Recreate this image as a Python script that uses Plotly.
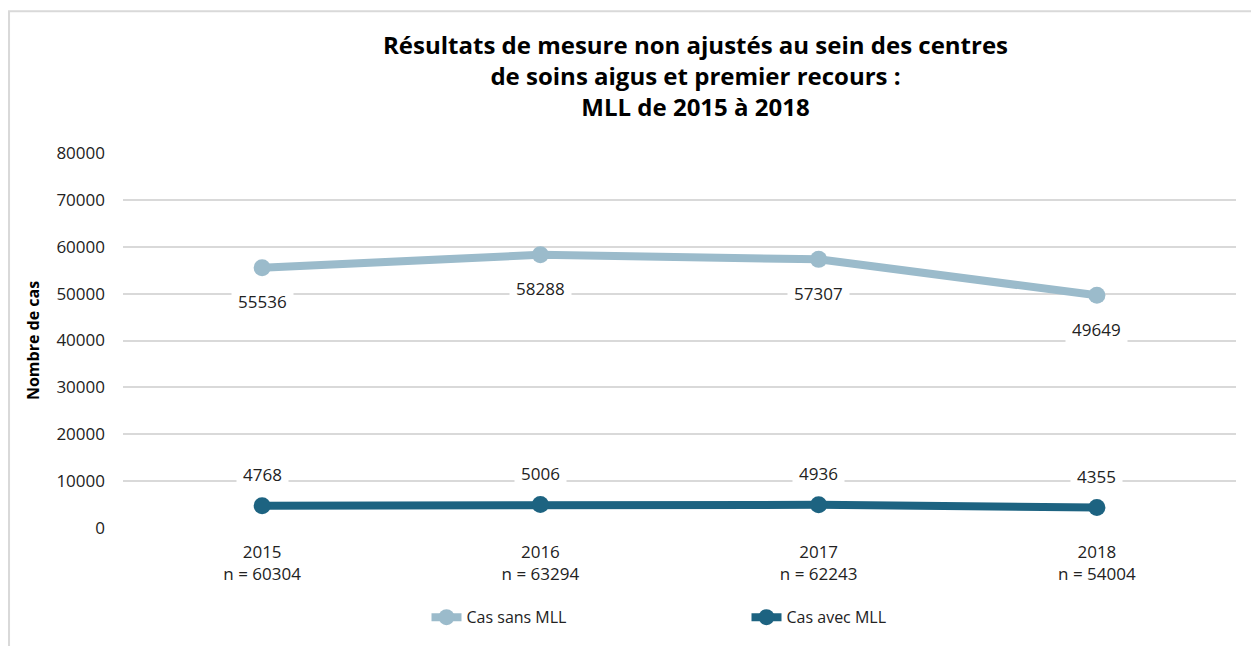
import plotly.graph_objects as go

years = ["2015", "2016", "2017", "2018"]
n_totals = ["60304", "63294", "62243", "54004"]
sans_mll = [55536, 58288, 57307, 49649]
avec_mll = [4768, 5006, 4936, 4355]
y_ticks = [0, 10000, 20000, 30000, 40000, 50000, 60000, 70000, 80000]
title_lines = ["Résultats de mesure non ajustés au sein des centres",
               "de soins aigus et premier recours :",
               "MLL de 2015 à 2018"]

cats = [f"{y}<br>n = {n}" for y, n in zip(years, n_totals)]

FONT = "Open Sans"
light = "#9BBBCB"
dark = "#1D6381"

fig = go.Figure()
fig.add_trace(go.Scatter(x=cats, y=sans_mll, name="Cas sans MLL", mode="lines+markers",
                         line=dict(color=light, width=8), marker=dict(size=17, color=light)))
fig.add_trace(go.Scatter(x=cats, y=avec_mll, name="Cas avec MLL", mode="lines+markers",
                         line=dict(color=dark, width=8), marker=dict(size=17, color=dark)))

for c, v in zip(cats, sans_mll):
    fig.add_annotation(x=c, y=v, text=str(v), showarrow=False, yshift=-34, bgcolor="white",
                       borderpad=6, font=dict(size=17, color="#222"))
for c, v in zip(cats, avec_mll):
    fig.add_annotation(x=c, y=v, text=str(v), showarrow=False, yshift=31, bgcolor="white",
                       borderpad=6, font=dict(size=17, color="#222"))

# chart title
fig.add_annotation(xref="paper", yref="paper", x=(695 - 123) / 1113, y=(531 - 75) / 378,
                   text="<br>".join(f"<b>{t}</b>" for t in title_lines), showarrow=False,
                   xanchor="center", yanchor="middle", align="center",
                   font=dict(family=FONT, size=24, color="black"))

# outer chart border
fig.add_shape(type="rect", xref="paper", yref="paper", x0=-0.1024, x1=1.02, y0=-0.33, y1=1.378,
              line=dict(color="#D9D9D9", width=2), layer="below")

fig.update_layout(
    width=1251, height=646,
    margin=dict(l=123, r=15, t=153, b=115),
    paper_bgcolor="white", plot_bgcolor="white",
    font=dict(family=FONT, size=17, color="#222"),
    xaxis=dict(showgrid=False, showline=False, ticks="", range=[-0.5, 3.5], ticklabelstandoff=12,
               tickfont=dict(size=17, color="#222")),
    yaxis=dict(range=[0, 80000], tickvals=y_ticks, tickformat="d", showgrid=True, gridcolor="#D9D9D9",
               gridwidth=2, zeroline=False, showline=False, ticks="", ticklabelstandoff=17,
               tickfont=dict(size=17, color="#222"),
               title=dict(text="<b>Nombre de cas</b>", font=dict(size=16, color="black"), standoff=12)),
    legend=dict(orientation="h", x=(746.5 - 123) / 1113, xanchor="center", y=-0.238, yanchor="middle",
                entrywidth=275, font=dict(size=16, color="#222")),
    showlegend=True,
)

fig.write_html("out.html", config={"displayModeBar": False},
               post_script="document.body.style.margin='0';document.body.style.overflow='hidden';")
